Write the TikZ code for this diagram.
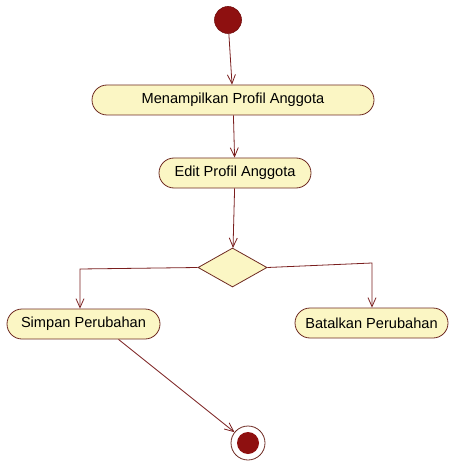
\documentclass[tikz,border=0pt]{standalone}
\usepackage{fontspec}
\setmainfont{Liberation Sans}
\usetikzlibrary{arrows.meta,shapes.geometric}
\definecolor{actfill}{HTML}{FBF6C4}
\definecolor{actline}{HTML}{6E2A22}
\definecolor{flow}{HTML}{7A1E1E}
\definecolor{dot}{HTML}{8E1010}
\begin{document}
\begin{tikzpicture}[x=1pt,y=-1pt,
  action/.style={draw=actline, fill=actfill, line width=0.8pt,
    rounded corners=15pt, minimum height=30pt, inner sep=0pt,
    font=\fontsize{14.6}{17}\selectfont},
  decision/.style={draw=actline, fill=actfill, line width=0.8pt,
    diamond, minimum width=69pt, minimum height=39pt, inner sep=0pt},
  initial/.style={circle, fill=dot, draw=dot!80!black, line width=0.6pt,
    minimum size=27pt, inner sep=0pt},
  final/.style={circle, draw=actline, fill=white, line width=0.8pt,
    minimum size=34pt, inner sep=0pt},
  flowline/.style={draw=flow, line width=0.8pt,
    -{Straight Barb[length=9pt,width=8pt]}}]
\useasboundingbox (0,0) rectangle (450,462);

% nodes
\node[initial] (start) at (228,20) {};
\node[action, minimum width=282pt] (a1) at (233,100) {Menampilkan Profil Anggota};
\node[action, minimum width=152pt] (a2) at (235,173) {Edit Profil Anggota};
\node[decision] (d) at (232.5,267.5) {};
\node[action, minimum width=153pt] (a3) at (83.5,324) {Simpan Perubahan};
\node[action, minimum width=153pt] (a4) at (371.5,323) {Batalkan Perubahan};
\node[final] (end) at (248,443) {};
\fill[dot] (end.center) circle (11pt);

% branch corners
\coordinate (bl) at (80,269);
\coordinate (br) at (372,263);

% flows
\draw[flowline] (start) -- (a1);
\draw[flowline] (a1) -- (a2);
\draw[flowline] (a2) -- (d);
\draw[flowline] (d.west) -- (bl) -- (bl |- a3.north);
\draw[flowline] (d.east) -- (br) -- (br |- a4.north);
\draw[flowline] ([xshift=35pt]a3.south) -- (end);
\end{tikzpicture}
\end{document}
